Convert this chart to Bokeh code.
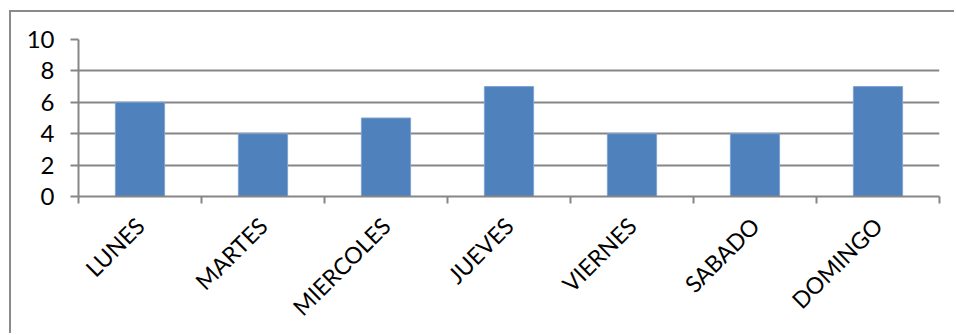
from bokeh.plotting import figure
from bokeh.models import Range1d, FixedTicker, ColumnDataSource
from bokeh.embed import file_html
from bokeh.resources import INLINE
import math

categories = ["LUNES", "MARTES", "MIERCOLES", "JUEVES", "VIERNES", "SABADO", "DOMINGO"]
values = [6, 4, 5, 7, 4, 4, 7]
y_ticks = [0, 2, 4, 6, 8, 10]

xpos = [i + 0.5 for i in range(len(categories))]
source = ColumnDataSource(dict(x=xpos, top=values, name=categories))

GRAY = "#868686"
FONT = "Lato"

p = figure(width=945, height=323, x_range=Range1d(0, len(categories)), y_range=Range1d(0, 10),
           output_backend="svg", toolbar_location=None,
           min_border_left=67, min_border_top=27, min_border_right=17, min_border_bottom=139)
p.margin = (10, 0, 0, 9)
p.styles = {"border-top": "2px solid #8a8a8a", "border-left": "2px solid #8a8a8a"}
p.outline_line_color = None
p.background_fill_color = "white"
p.border_fill_color = "white"

p.vbar(x="x", top="top", width=0.4, bottom=0, source=source,
       fill_color="#4F81BD", line_color="#7ea3d4", line_width=1)

# x axis
xa = p.xaxis[0]
xa.ticker = FixedTicker(ticks=xpos, minor_ticks=list(range(len(categories) + 1)))
xa.major_label_overrides = {x: c for x, c in zip(xpos, categories)}
xa.major_tick_out = 0
xa.major_tick_in = 0
xa.minor_tick_out = 7
xa.minor_tick_in = 0
xa.minor_tick_line_color = GRAY
xa.minor_tick_line_width = 2
xa.axis_line_color = GRAY
xa.axis_line_width = 2
xa.major_label_orientation = math.pi / 4
xa.major_label_text_font = FONT
xa.major_label_text_font_size = "23px"
xa.major_label_text_color = "black"
xa.major_label_standoff = 18

# y axis
ya = p.yaxis[0]
ya.ticker = FixedTicker(ticks=y_ticks)
ya.minor_tick_line_color = None
ya.major_tick_out = 8
ya.major_tick_in = 0
ya.major_tick_line_color = GRAY
ya.major_tick_line_width = 2
ya.axis_line_color = GRAY
ya.axis_line_width = 2
ya.major_label_text_font = FONT
ya.major_label_text_font_size = "24px"
ya.major_label_text_color = "black"
ya.major_label_standoff = 16

p.xgrid.grid_line_color = None
p.ygrid.grid_line_color = GRAY
p.ygrid.grid_line_width = 2
p.ygrid.ticker = FixedTicker(ticks=y_ticks)

open("out.html", "w").write(file_html(p, INLINE))
